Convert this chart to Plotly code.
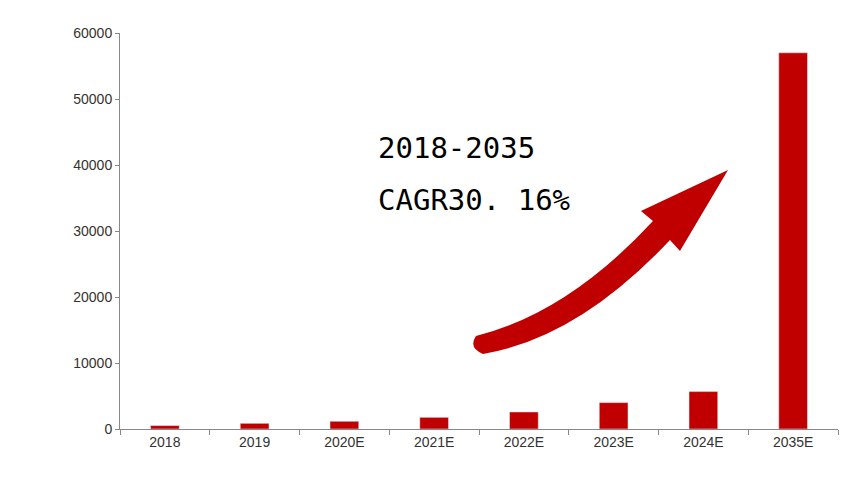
import plotly.graph_objects as go

categories = ["2018", "2019", "2020E", "2021E", "2022E", "2023E", "2024E", "2035E"]
values = [520, 860, 1170, 1770, 2580, 4000, 5670, 57000]
y_ticks = [0, 10000, 20000, 30000, 40000, 50000, 60000]

L, R, T, B = 112, 830, 25, 421
def p(x, y):
    return f"{(x-L)/(R-L):.4f},{(B-y)/(B-T):.4f}"

arrow = ("M " + p(468, 328) + " Q " + p(560, 305) + " " + p(645, 213) +
         " L " + p(633, 203) + " L " + p(720, 162) + " L " + p(672, 243) +
         " L " + p(662, 232) + " Q " + p(570, 330) + " " + p(475, 346) +
         " Q " + p(460, 340) + " " + p(468, 328) + " Z")

fig = go.Figure(go.Bar(x=categories, y=values, marker_color="#C00000", width=0.32))
fig.add_shape(type="path", path=arrow, xref="paper", yref="paper",
              fillcolor="#C00000", line=dict(width=0))
for txt, yy in [("2018-2035", 140), ("CAGR30. 16%", 192)]:
    fig.add_annotation(text=txt, xref="paper", yref="paper", x=(368-L)/(R-L), y=(B-yy)/(B-T),
                       xanchor="left", yanchor="middle", showarrow=False,
                       font=dict(size=29, color="black", family="DejaVu Sans Mono"))
fig.update_layout(
    width=865, height=494, margin=dict(l=L, r=865-R, t=T, b=494-B, autoexpand=False),
    plot_bgcolor="white", paper_bgcolor="white", showlegend=False,
    font=dict(family="Arial, Liberation Sans", size=14, color="#333"),
    xaxis=dict(showline=True, linecolor="#888", ticks="outside", tickson="boundaries",
               ticklen=5, tickcolor="#888", showgrid=False, automargin=False),
    yaxis=dict(range=[0, 60000], tickvals=y_ticks, tickformat="d", showline=True, linecolor="#888",
               ticks="outside", ticklen=4, tickcolor="#888", showgrid=False, zeroline=False,
               automargin=False),
)
fig.write_html("out.html")
